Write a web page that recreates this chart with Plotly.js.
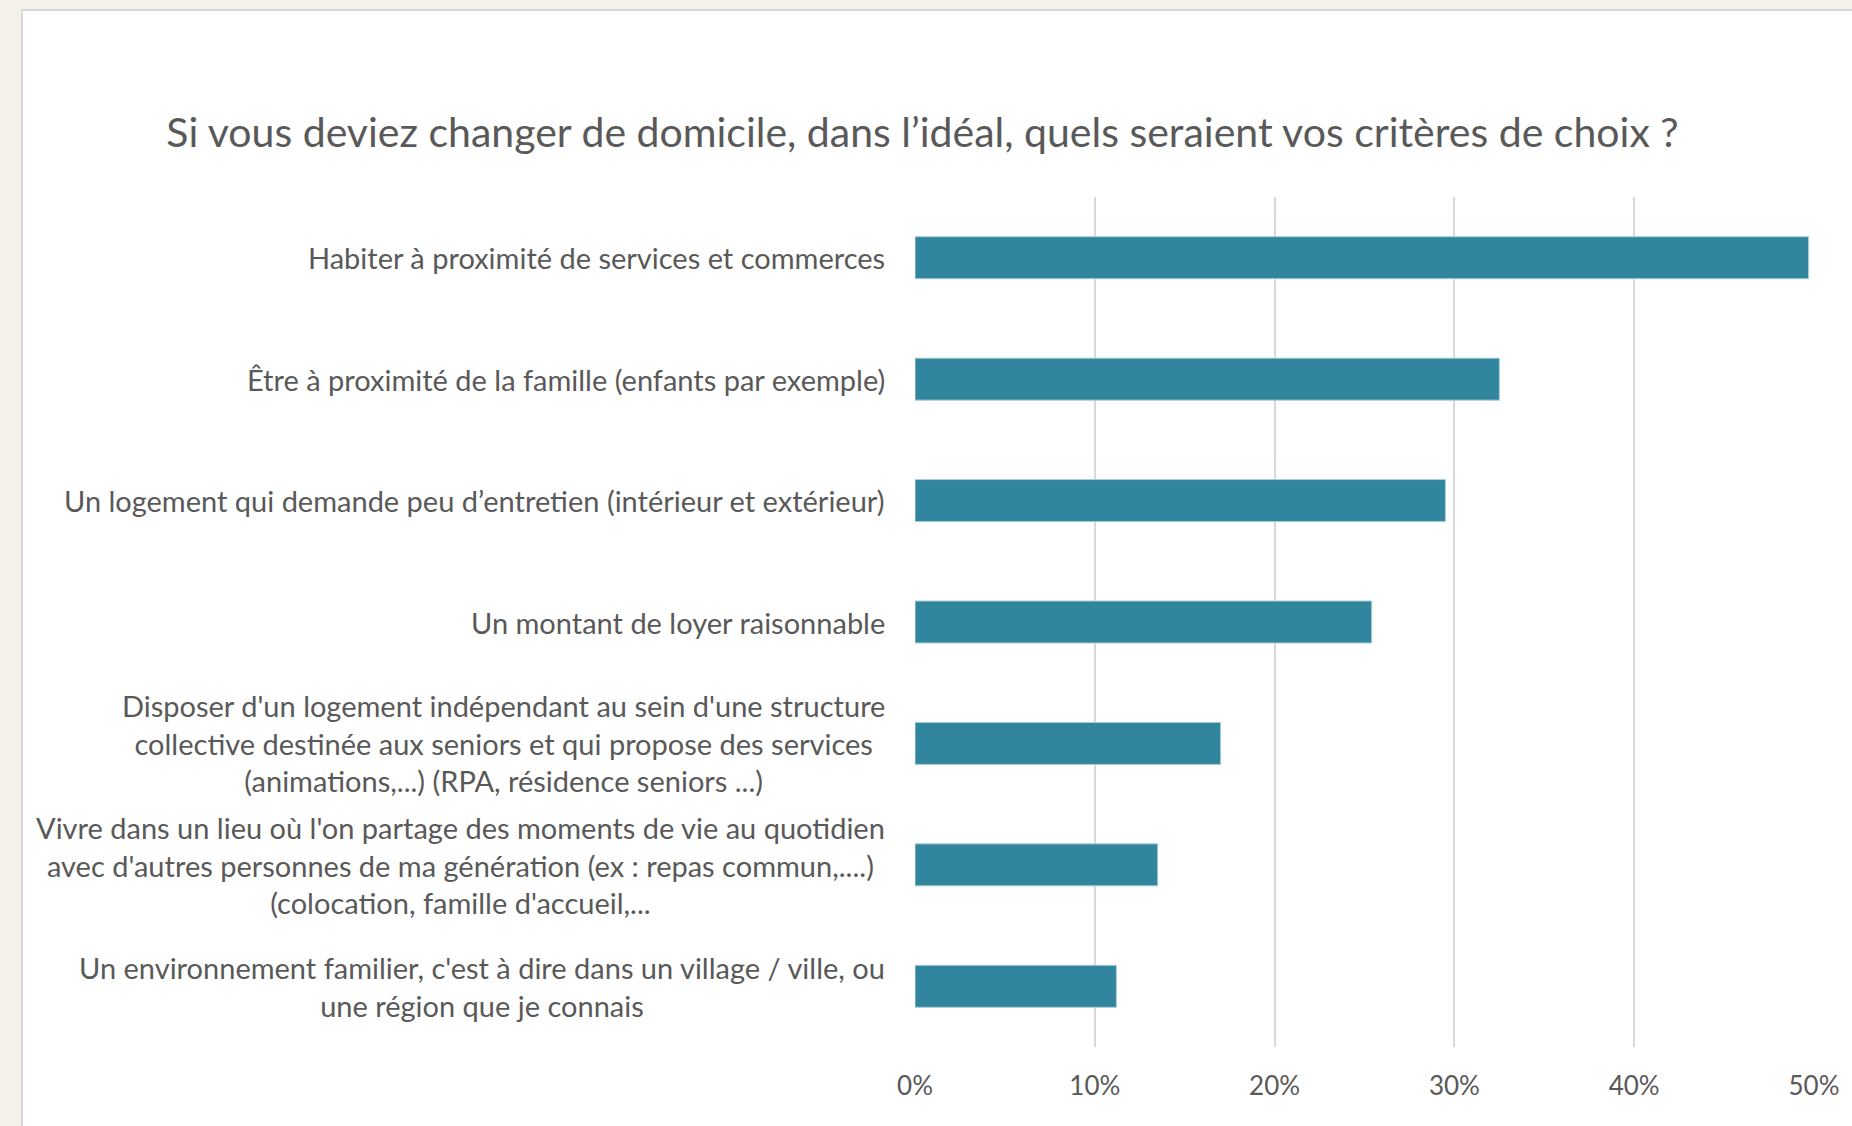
<!DOCTYPE html>
<html>
<head>
<meta charset="utf-8">
<script src="https://cdn.plot.ly/plotly-3.0.1.min.js"></script>
<style>
  html, body { margin: 0; padding: 0; width: 1852px; height: 1126px; overflow: hidden; background: #f4f1ea; }
  #chart { position: absolute; left: 21px; top: 9px; width: 1829px; height: 1115px;
           border-left: 2px solid #d9d9d9; border-top: 2px solid #d9d9d9; background: #ffffff; }
</style>
</head>
<body>
<div id="chart"></div>
<script>
const chartTitle = "Si vous deviez changer de domicile, dans l’idéal, quels seraient vos critères de choix ?";

const categories = [
  "Habiter à proximité de services et commerces",
  "Être à proximité de la famille (enfants par exemple)",
  "Un logement qui demande peu d’entretien (intérieur et extérieur)",
  "Un montant de loyer raisonnable",
  "Disposer d'un logement indépendant au sein d'une structure<br>collective destinée aux seniors et qui propose des services<br>(animations,...) (RPA, résidence seniors ...)",
  "Vivre dans un lieu où l'on partage des moments de vie au quotidien<br>avec d'autres personnes de ma génération (ex : repas commun,....)<br>(colocation, famille d'accueil,...",
  "Un environnement familier, c'est à dire dans un village / ville, ou<br>une région que je connais"
];

const values = [0.497, 0.325, 0.295, 0.254, 0.170, 0.135, 0.112];

const tickValues = [0, 0.1, 0.2, 0.3, 0.4, 0.5];
const tickLabels = ["0%", "10%", "20%", "30%", "40%", "50%"];

const catIds = categories.map((c, i) => "c" + i);

const trace = {
  type: "bar",
  orientation: "h",
  x: values,
  y: catIds,
  marker: { color: "#31859c", line: { color: "#a9cfd9", width: 1 } },
  hoverinfo: "x+text",
  text: categories,
  textposition: "none"
};

const annotations = categories.map((c, i) => ({
  xref: "paper", yref: "y",
  x: 0, y: catIds[i],
  xanchor: "right", yanchor: "middle",
  xshift: -28,
  text: c,
  align: "center",
  showarrow: false,
  font: { family: "Lato, 'Open Sans', sans-serif", size: 29, color: "#595959" }
}));

const layout = {
  width: 1829,
  height: 1115,
  margin: { l: 892, r: 38, t: 186, b: 79, pad: 0 },
  paper_bgcolor: "#ffffff",
  plot_bgcolor: "#ffffff",
  showlegend: false,
  bargap: 0.654,
  title: {
    text: chartTitle,
    xref: "container", yref: "container",
    x: 0.4918, y: 0.8906,
    xanchor: "center", yanchor: "middle",
    font: { family: "Lato, 'Open Sans', sans-serif", size: 41, color: "#595959" }
  },
  xaxis: {
    range: [0, 0.5],
    tickvals: tickValues,
    ticktext: tickLabels,
    showgrid: true,
    gridcolor: "#d9d9d9",
    gridwidth: 2,
    zeroline: false,
    showline: false,
    ticks: "outside",
    ticklen: 16,
    tickcolor: "rgba(0,0,0,0)",
    tickfont: { family: "Lato, 'Open Sans', sans-serif", size: 26, color: "#595959" },
    fixedrange: true
  },
  yaxis: {
    type: "category",
    categoryorder: "array",
    categoryarray: catIds,
    autorange: "reversed",
    showticklabels: false,
    showgrid: false,
    zeroline: false,
    showline: false,
    ticks: "",
    fixedrange: true
  },
  annotations: annotations
};

Plotly.newPlot("chart", [trace], layout, { displayModeBar: false, responsive: false });
</script>
</body>
</html>
